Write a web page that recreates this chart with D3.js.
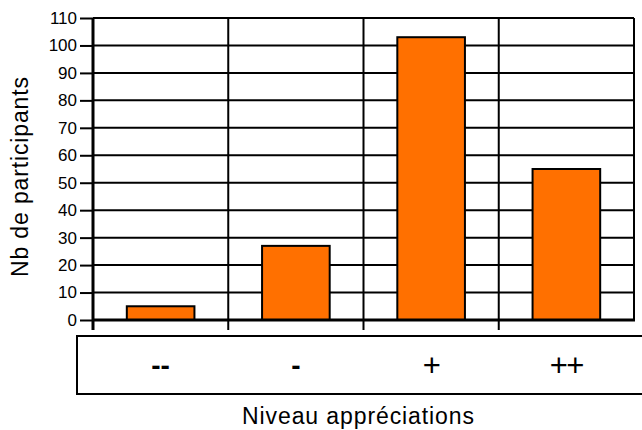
<!DOCTYPE html>
<html>
<head>
<meta charset="utf-8">
<script src="https://d3js.org/d3.v7.min.js"></script>
<style>
  body { margin: 0; background: #fff; }
  svg { font-family: "Liberation Sans", Arial, sans-serif; }
</style>
</head>
<body>
<svg width="642" height="430"></svg>
<script>
var categories = ["--", "-", "+", "++"];
var values = [5, 27, 103, 55];
var yTicks = [0, 10, 20, 30, 40, 50, 60, 70, 80, 90, 100, 110];

var svg = d3.select("svg"),
    pLeft = 93, pRight = 634, pTop = 18, pBottom = 320;

var x = d3.scaleBand().domain(categories).range([pLeft, pRight]).paddingInner(0).paddingOuter(0);
var y = d3.scaleLinear().domain([0, 110]).range([pBottom, pTop]);

// horizontal gridlines
svg.append("g").selectAll("line")
  .data(yTicks)
  .enter().append("line")
  .attr("x1", pLeft).attr("x2", pRight)
  .attr("y1", d => y(d)).attr("y2", d => y(d))
  .attr("stroke", "#000").attr("stroke-width", 2);

// vertical gridlines at category boundaries
var bounds = categories.slice(1).map(c => x(c)).concat([pRight]);
svg.append("g").selectAll("line")
  .data(bounds)
  .enter().append("line")
  .attr("x1", d => d).attr("x2", d => d)
  .attr("y1", pTop).attr("y2", pBottom)
  .attr("stroke", "#000").attr("stroke-width", 2);

// bars
var bw = x.bandwidth() * 0.5;
svg.append("g").selectAll("rect")
  .data(values)
  .enter().append("rect")
  .attr("x", (d, i) => x(categories[i]) + (x.bandwidth() - bw) / 2)
  .attr("width", bw)
  .attr("y", d => y(d))
  .attr("height", d => y(0) - y(d))
  .attr("fill", "#ff7000")
  .attr("stroke", "#000").attr("stroke-width", 2);

// y axis
var yAxis = d3.axisLeft(y).tickValues(yTicks).tickSize(13).tickPadding(3);
var gy = svg.append("g").attr("transform", "translate(" + pLeft + ",0)").call(yAxis);
gy.select(".domain").remove();
gy.selectAll(".tick line").attr("stroke", "#000").attr("stroke-width", 2);
gy.selectAll(".tick text").attr("font-size", 17).attr("fill", "#000")
  .attr("font-family", "Liberation Sans, Arial, sans-serif");

// axis lines
svg.append("line").attr("x1", pLeft).attr("x2", pLeft).attr("y1", pTop).attr("y2", pBottom + 10)
  .attr("stroke", "#000").attr("stroke-width", 3);
svg.append("line").attr("x1", pLeft).attr("x2", pRight + 1).attr("y1", pBottom).attr("y2", pBottom)
  .attr("stroke", "#000").attr("stroke-width", 3);

// x tick marks below axis
svg.append("g").selectAll("line")
  .data(categories.slice(1).map(c => x(c)))
  .enter().append("line")
  .attr("x1", d => d).attr("x2", d => d)
  .attr("y1", pBottom).attr("y2", pBottom + 10)
  .attr("stroke", "#000").attr("stroke-width", 2);

// table box of categories
svg.append("path")
  .attr("d", "M650,336 H77 V394 H650")
  .attr("fill", "none").attr("stroke", "#000").attr("stroke-width", 2);

svg.append("g").selectAll("text")
  .data(categories)
  .enter().append("text")
  .attr("x", d => x(d) + x.bandwidth() / 2)
  .attr("y", d => d.indexOf("-") >= 0 ? 375 : 376)
  .attr("text-anchor", "middle")
  .attr("font-size", d => d.indexOf("-") >= 0 ? 28 : 31)
  .attr("letter-spacing", d => d.indexOf("-") >= 0 ? 0 : -1.5)
  .attr("font-weight", d => d.indexOf("-") >= 0 ? "bold" : "normal")
  .text(d => d);

// axis titles
svg.append("text")
  .attr("x", 358).attr("y", 424)
  .attr("text-anchor", "middle")
  .attr("font-size", 23)
  .attr("textLength", 232)
  .text("Niveau appréciations");

svg.append("text")
  .attr("transform", "translate(28,177) rotate(-90)")
  .attr("text-anchor", "middle")
  .attr("font-size", 23)
  .attr("textLength", 200)
  .text("Nb de participants");
</script>
</body>
</html>
